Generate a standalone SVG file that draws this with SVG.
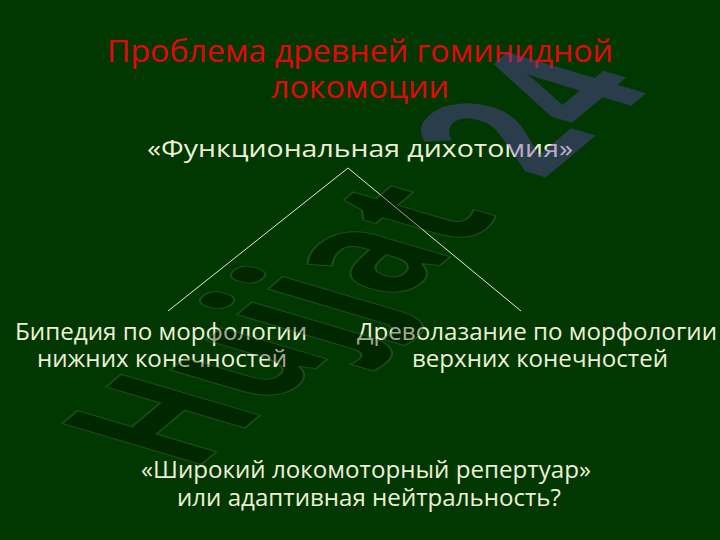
<svg xmlns="http://www.w3.org/2000/svg" width="720" height="540" viewBox="0 0 720 540">
<style>
.t{font-family:"Open Sans","Noto Sans","DejaVu Sans",sans-serif;text-anchor:middle}
.title{fill:#e30808;font-size:31px}
.w{fill:#eef0d6;font-size:24px}
.n{fill:#eef0d6;font-size:23px}
.wm{font-family:"Open Sans","DejaVu Sans",sans-serif;font-weight:bold;font-size:120px}
</style>
<rect x="0" y="0" width="720" height="540" fill="#013801"/>
<g id="title">
<text class="t title" x="360" y="62" textLength="506" lengthAdjust="spacingAndGlyphs">Проблема древней гоминидной</text>
<text class="t title" x="360" y="98" textLength="178" lengthAdjust="spacingAndGlyphs">локомоции</text>
</g>
<g id="dichotomy">
<text class="t w" x="360" y="157" textLength="426" lengthAdjust="spacingAndGlyphs">«Функциональная дихотомия»</text>
</g>
<g id="connectors" stroke="#e4ecc4" stroke-width="1" fill="none">
<line x1="348" y1="168" x2="168" y2="311"/>
<line x1="348" y1="168" x2="521" y2="311"/>
</g>
<g id="bipedia">
<text class="t n" x="161" y="340" textLength="292" lengthAdjust="spacingAndGlyphs">Бипедия по морфологии</text>
<text class="t n" x="162" y="367" textLength="250" lengthAdjust="spacingAndGlyphs">нижних конечностей</text>
</g>
<g id="arboreal">
<text class="t n" x="537" y="340" textLength="360" lengthAdjust="spacingAndGlyphs">Древолазание по морфологии</text>
<text class="t n" x="540" y="367" textLength="256" lengthAdjust="spacingAndGlyphs">верхних конечностей</text>
</g>
<g id="question">
<text class="t n" x="366" y="478" textLength="450" lengthAdjust="spacingAndGlyphs">«Широкий локомоторный репертуар»</text>
<text class="t n" x="369" y="506" textLength="384" lengthAdjust="spacingAndGlyphs">или адаптивная нейтральность?</text>
</g>
<g id="watermark" transform="matrix(0.84,-0.70,1.62,0.48,192,472)">
<text class="wm" x="0" y="0" fill="#000" fill-opacity="0.3" stroke="#6a9a6a" stroke-opacity="0.25" stroke-width="1.2">Hujjat</text>
<text class="wm" x="416" y="0" fill="#6a46bc" fill-opacity="0.4">24</text>
</g>
</svg>
